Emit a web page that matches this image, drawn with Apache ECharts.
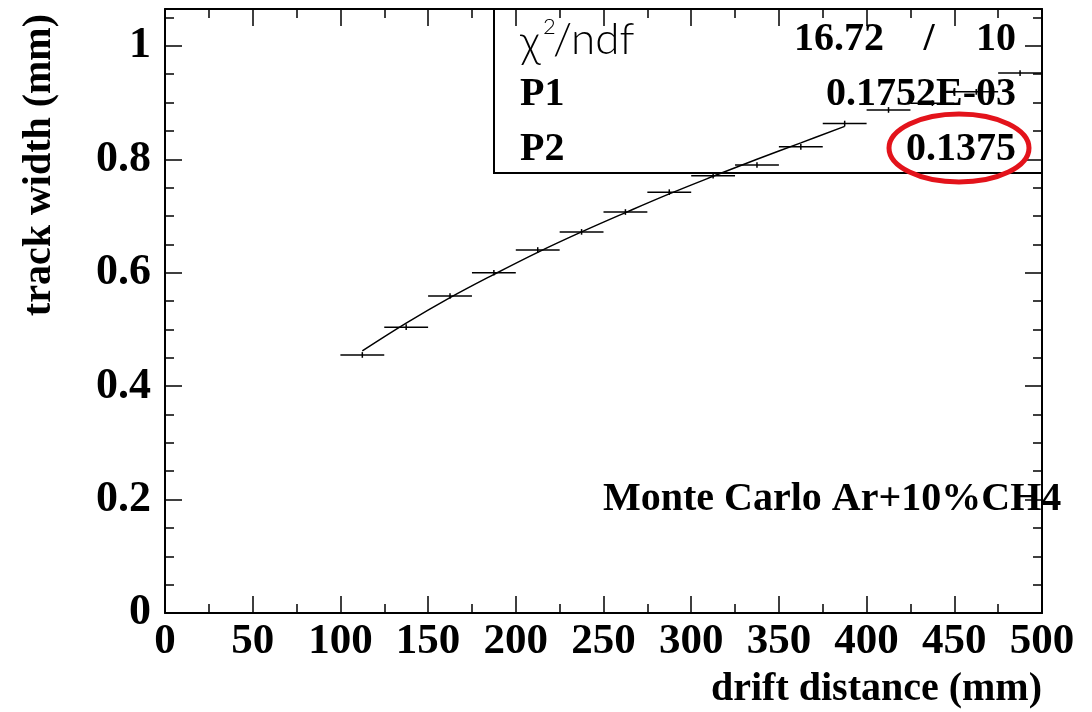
<!DOCTYPE html>
<html>
<head>
<meta charset="utf-8">
<script src="https://cdn.jsdelivr.net/npm/echarts@6/dist/echarts.min.js"></script>
<style>
  html, body { margin: 0; padding: 0; background: #ffffff; }
  #chart { width: 1092px; height: 712px; }
</style>
</head>
<body>
<div id="chart"></div>
<script>
// Drift distance bins (mm): centres and half width
const binCenters = [112.5, 137.5, 162.5, 187.5, 212.5, 237.5, 262.5, 287.5,
                    312.5, 337.5, 362.5, 387.5, 412.5, 437.5, 462.5, 487.5];
const binHalfWidth = 12.5;

// Mean track width per bin (mm) and its uncertainty
const trackWidth = [0.455, 0.504, 0.559, 0.600, 0.640, 0.672, 0.707, 0.742,
                    0.771, 0.790, 0.822, 0.863, 0.887, 0.899, 0.919, 0.952];
const widthErr   = [0.005, 0.005, 0.005, 0.005, 0.005, 0.005, 0.005, 0.005,
                    0.005, 0.005, 0.005, 0.005, 0.005, 0.005, 0.005, 0.005];

// Fitted curve over the fit range
const fitX = [112.5, 137.5, 162.5, 187.5, 212.5, 237.5, 262.5, 287.5, 312.5, 337.5, 362.5, 387.5];
const fitY = [0.462, 0.511, 0.556, 0.597, 0.636, 0.672, 0.706, 0.739, 0.770, 0.800, 0.829, 0.858];

// Axis ranges
const xRange = [0, 500];
const xStep = 50;
const yRange = [0, 1.065];
const yStep = 0.2;

// Fit statistics
const statLabels = ['P1', 'P2'];
const statValues = ['0.1752E-03', '0.1375'];
const chi2 = '16.72';
const ndf = '10';

const SERIF = '"Liberation Serif", "DejaVu Serif", "Times New Roman", serif';
const THIN = 'Lato, "Open Sans", "DejaVu Sans", sans-serif';

const chart = echarts.init(document.getElementById('chart'), null, { renderer: 'canvas' });

const grid = { left: 165, right: 50, top: 9, bottom: 99 };
const gx0 = grid.left, gx1 = 1092 - grid.right, gy0 = grid.top, gy1 = 712 - grid.bottom;

const axisLine = { show: true, onZero: false, lineStyle: { color: '#000', width: 2 } };
const tickStyle = { color: '#000', width: 1.5 };

function xAxisDef(pos, labels) {
  return {
    type: 'value', position: pos, min: xRange[0], max: xRange[1], interval: xStep,
    axisLine: axisLine,
    axisTick: { show: true, inside: true, length: 17, lineStyle: tickStyle },
    minorTick: { show: true, splitNumber: 2, length: 9, lineStyle: tickStyle },
    splitLine: { show: false },
    axisLabel: labels ? {
      show: true, margin: 7, color: '#000', fontFamily: SERIF, fontWeight: 'bold', fontSize: 43
    } : { show: false }
  };
}
function yAxisDef(pos, labels) {
  return {
    type: 'value', position: pos, min: yRange[0], max: yRange[1], interval: yStep,
    axisLine: axisLine,
    axisTick: { show: true, inside: true, length: 17, lineStyle: tickStyle },
    minorTick: { show: true, splitNumber: 4, length: 9, lineStyle: tickStyle },
    splitLine: { show: false },
    axisLabel: labels ? {
      show: true, margin: 14, color: '#000', fontFamily: SERIF, fontWeight: 'bold', fontSize: 44,
      showMaxLabel: false,
      formatter: v => (Math.abs(v / yStep - Math.round(v / yStep)) < 1e-6 ? String(+v.toFixed(1)) : '')
    } : { show: false }
  };
}

const points = binCenters.map((x, i) => [x, trackWidth[i], binHalfWidth, widthErr[i]]);
const fitLine = fitX.map((x, i) => [x, fitY[i]]);

const statRowY = [95, 150];

chart.setOption({
  animation: false,
  backgroundColor: '#ffffff',
  grid: Object.assign({ containLabel: false, outerBoundsMode: 'none' }, grid),
  xAxis: [xAxisDef('bottom', true), xAxisDef('top', false)],
  yAxis: [yAxisDef('left', true), yAxisDef('right', false)],
  series: [
    {
      type: 'custom',
      xAxisIndex: 0, yAxisIndex: 0,
      data: points,
      encode: { x: 0, y: 1 },
      z: 3,
      renderItem: function (params, api) {
        const x = api.value(0), y = api.value(1), hw = api.value(2), e = api.value(3);
        const l = api.coord([x - hw, y]), r = api.coord([x + hw, y]);
        const b = api.coord([x, y - e]), t = api.coord([x, y + e]);
        return {
          type: 'group',
          children: [
            { type: 'line', shape: { x1: l[0], y1: l[1], x2: r[0], y2: r[1] },
              style: { stroke: '#000', lineWidth: 1.5 } },
            { type: 'line', shape: { x1: b[0], y1: b[1], x2: t[0], y2: t[1] },
              style: { stroke: '#000', lineWidth: 1.5 } }
          ]
        };
      }
    },
    {
      type: 'line',
      xAxisIndex: 0, yAxisIndex: 0,
      data: fitLine,
      smooth: 0.4,
      showSymbol: false,
      symbol: 'none',
      z: 4,
      lineStyle: { color: '#000', width: 1.5 }
    }
  ],
  graphic: [
    // stats box (top and right sides coincide with the frame)
    { type: 'polyline', z: 10,
      shape: { points: [[494, gy0], [494, 173], [gx1, 173]] },
      style: { stroke: '#000', lineWidth: 2, fill: null } },
    // chi2 / ndf row
    { type: 'text', z: 11, x: 520, y: 43,
      style: { text: 'χ', font: '300 44px ' + THIN, fill: '#000', verticalAlign: 'middle' } },
    { type: 'text', z: 11, x: 543, y: 27,
      style: { text: '2', font: '300 22px ' + THIN, fill: '#000', verticalAlign: 'middle' } },
    { type: 'text', z: 11, x: 553, y: 40,
      style: { text: '/ndf', font: '300 44px ' + THIN, fill: '#000', verticalAlign: 'middle' } },
    { type: 'text', z: 11, x: 884, y: 40,
      style: { text: chi2, font: 'bold 40px ' + SERIF, fill: '#000', align: 'right', verticalAlign: 'middle' } },
    { type: 'text', z: 11, x: 929, y: 40,
      style: { text: '/', font: 'bold 40px ' + SERIF, fill: '#000', align: 'center', verticalAlign: 'middle' } },
    { type: 'text', z: 11, x: 1016, y: 40,
      style: { text: ndf, font: 'bold 40px ' + SERIF, fill: '#000', align: 'right', verticalAlign: 'middle' } },
    // parameter rows
    ...statLabels.map((s, i) => ({ type: 'text', z: 11, x: 520, y: statRowY[i],
      style: { text: s, font: 'bold 40px ' + SERIF, fill: '#000', verticalAlign: 'middle' } })),
    ...statValues.map((s, i) => ({ type: 'text', z: 11, x: 1016, y: statRowY[i],
      style: { text: s, font: 'bold 40px ' + SERIF, fill: '#000', align: 'right', verticalAlign: 'middle' } })),
    // highlight around P2
    { type: 'ellipse', z: 12,
      shape: { cx: 959, cy: 148, rx: 70, ry: 34 },
      style: { stroke: '#e3131b', lineWidth: 5, fill: null } },
    // sample label
    { type: 'text', z: 11, x: 603, y: 500,
      style: { text: 'Monte Carlo Ar+10%CH4', font: 'bold 40px ' + SERIF, fill: '#000', verticalAlign: 'middle' } },
    // axis titles
    { type: 'text', z: 11, x: gx1, y: 690,
      style: { text: 'drift distance (mm)', font: 'bold 40px ' + SERIF, fill: '#000', align: 'right', verticalAlign: 'middle' } },
    { type: 'text', z: 11, x: 40, y: 14, rotation: Math.PI / 2,
      style: { text: 'track width (mm)', font: 'bold 40px ' + SERIF, fill: '#000', align: 'right', verticalAlign: 'middle' } }
  ]
});
</script>
</body>
</html>
